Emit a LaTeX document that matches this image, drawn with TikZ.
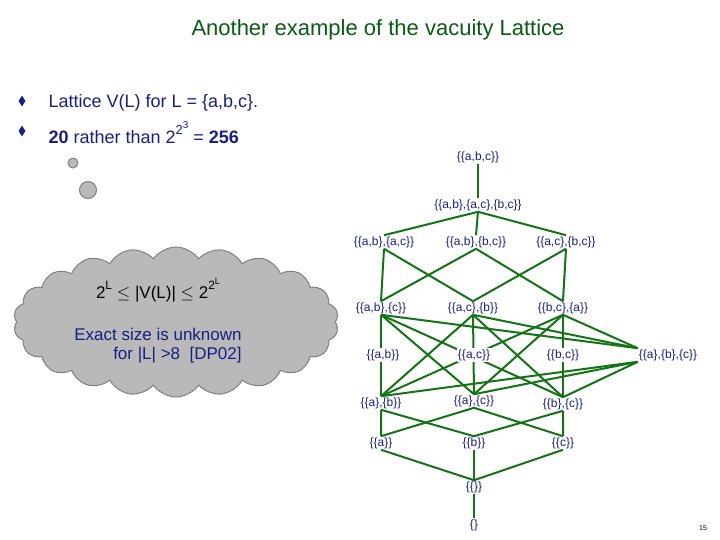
\documentclass[tikz,border=0pt]{standalone}
\usepackage{amsmath}
\usepackage{amssymb}
\usepackage{fontspec}
\setmainfont{Liberation Sans}
\usepackage{tikz}
\usetikzlibrary{shapes.symbols,shapes.geometric}
\definecolor{navy}{RGB}{25,30,130}
\definecolor{leaf}{RGB}{20,115,20}
\definecolor{titlegreen}{RGB}{10,90,20}

\begin{document}
\begin{tikzpicture}[x=1pt,y=-1pt,
		set/.style={text=navy, font=\fontsize{12}{14}\selectfont, inner sep=1pt},
		link/.style={draw=leaf, line width=2pt},
		bubble/.style={draw=gray, fill=gray!55, line width=1pt}]
		\useasboundingbox (0,0) rectangle (720,540);
		\node[text=titlegreen, font=\fontsize{22}{26}\selectfont] (title) at (378,30) {Another example of the vacuity Lattice};
		\node[diamond, fill=navy, inner sep=0pt, minimum width=7pt, minimum height=11pt] (b1) at (22,101) {};
		\node[diamond, fill=navy, inner sep=0pt, minimum width=7pt, minimum height=11pt] (b2) at (22,131) {};
		\node[anchor=west, text=navy, font=\fontsize{18}{22}\selectfont] (t1) at (45,103) {Lattice V(L) for L = \{a,b,c\}.};
		\node[anchor=west, text=navy, font=\fontsize{18}{22}\selectfont] (t2) at (45,133) {\textbf{20} rather than 2\raisebox{1ex}{\fontsize{13}{13}\selectfont 2\raisebox{0.8ex}{\fontsize{10}{10}\selectfont 3}} = \textbf{256}};
		% thought cloud
		\node[bubble, circle, minimum size=10pt] (c1) at (73,163) {};
		\node[bubble, circle, minimum size=17pt] (c2) at (88,190) {};
		\node[bubble, cloud, cloud puffs=22, cloud puff arc=110, aspect=2.2, minimum width=325pt, minimum height=150pt] (cloud) at (176,322) {};
		\node[text=black, font=\fontsize{17}{20}\selectfont] (c3) at (158,290) {2\raisebox{1ex}{\fontsize{12}{12}\selectfont L} $\le$ |V(L)| $\le$ 2\raisebox{1ex}{\fontsize{12}{12}\selectfont 2\raisebox{0.8ex}{\fontsize{9}{9}\selectfont L}}};
		\node[text=navy, align=right, font=\fontsize{17}{19}\selectfont] (c4) at (158,346) {Exact size is unknown\\for |L| >8 \ [DP02]};
		% lattice
		\node[set] (abc) at (478,157) {\{\{a,b,c\}\}};
		\node[set] (all2) at (478,205) {\{\{a,b\},\{a,c\},\{b,c\}\}};
		\node[set] (p1) at (384,242) {\{\{a,b\},\{a,c\}\}};
		\node[set] (p2) at (476,242) {\{\{a,b\},\{b,c\}\}};
		\node[set] (p3) at (566,242) {\{\{a,c\},\{b,c\}\}};
		\node[set] (q1) at (381,308) {\{\{a,b\},\{c\}\}};
		\node[set] (q2) at (473,308) {\{\{a,c\},\{b\}\}};
		\node[set] (q3) at (563,308) {\{\{b,c\},\{a\}\}};
		\node[set] (r1) at (383,355) {\{\{a,b\}\}};
		\node[set] (r2) at (474,355) {\{\{a,c\}\}};
		\node[set] (r3) at (563,355) {\{\{b,c\}\}};
		\node[set] (sng) at (668,355) {\{\{a\},\{b\},\{c\}\}};
		\node[set] (s1) at (381,403) {\{\{a\},\{b\}\}};
		\node[set] (s2) at (474,401) {\{\{a\},\{c\}\}};
		\node[set] (s3) at (563,404) {\{\{b\},\{c\}\}};
		\node[set] (u1) at (381,443) {\{\{a\}\}};
		\node[set] (u2) at (474,443) {\{\{b\}\}};
		\node[set] (u3) at (563,443) {\{\{c\}\}};
		\node[set] (empt) at (474,487) {\{\{\}\}};
		\node[set] (none) at (474,525) {\{\}};
		\node[font=\scriptsize] (page) at (703,528) {15};

		\draw[link] (abc) -- (all2);
		\foreach \p in {p1,p2,p3} \draw[link] (all2.south) -- (\p.north);
		\draw[link] (p1.south) -- (q1.north) (p1.south) -- (q2.north);
		\draw[link] (p2.south) -- (q1.north) (p2.south) -- (q3.north);
		\draw[link] (p3.south) -- (q2.north) (p3.south) -- (q3.north);
		\foreach \q in {q1,q2,q3} {
			\foreach \s in {s1,s2,s3} \draw[link] (\q.south) -- (\s.north);
			\draw[link] (\q.south) -- (sng.north west);
		}
		\foreach \s in {s1,s2,s3} \draw[link] (\s.north) -- (sng.south west);
		\draw[link] (s1.south) -- (u1.north) (s1.south) -- (u2.north);
		\draw[link] (s2.south) -- (u1.north) (s2.south) -- (u3.north);
		\draw[link] (s3.south) -- (u2.north) (s3.south) -- (u3.north);
		\foreach \u in {u1,u2,u3} \draw[link] (\u.south) -- (empt.north);
		\draw[link] (empt) -- (none);
		\foreach \r/\t in {r1/{\{\{a,b\}\}},r2/{\{\{a,c\}\}},r3/{\{\{b,c\}\}}}
			\node[set, fill=white] at (\r) {\t};
		\end{tikzpicture}
\end{document}
